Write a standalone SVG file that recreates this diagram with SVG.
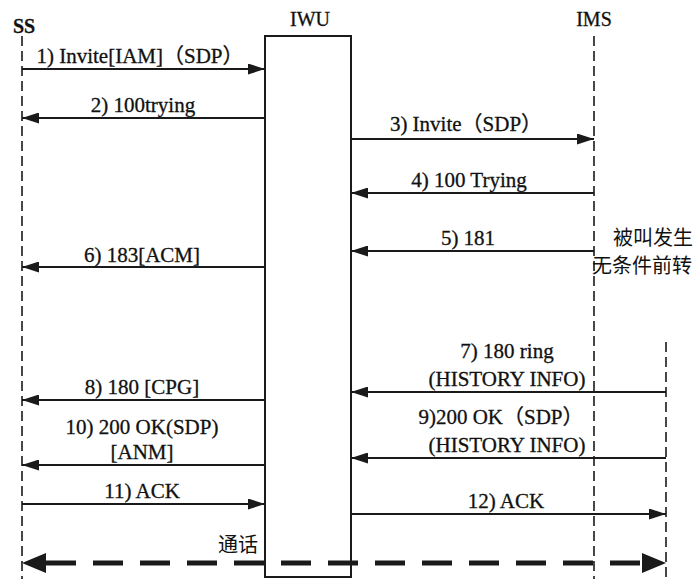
<svg xmlns="http://www.w3.org/2000/svg" width="699" height="579" viewBox="0 0 699 579">
<style>
.t{font-family:"Liberation Serif","Noto Sans CJK SC",serif;font-size:21px;fill:#111;stroke:#111;stroke-width:0.3;text-anchor:middle}
.h{font-family:"Liberation Serif",serif;font-size:20px;fill:#111;stroke:#111;stroke-width:0.3;text-anchor:middle}
.c{font-family:"Noto Sans CJK SC",sans-serif;font-size:20px;fill:#111}
.life{stroke:#1a1a1a;stroke-width:1.6;stroke-dasharray:10 5;fill:none}
.msg{stroke:#1a1a1a;stroke-width:2;fill:none;marker-end:url(#ah)}
.big{stroke:#1a1a1a;stroke-width:5;fill:none;stroke-dasharray:30 17;marker-start:url(#bh);marker-end:url(#bh)}
</style>
<defs>
<marker id="ah" viewBox="0 0 17 11" refX="17" refY="5.5" markerWidth="17" markerHeight="11" markerUnits="userSpaceOnUse" orient="auto">
<path d="M0,0 L17,5.5 L0,11 z" fill="#1a1a1a"/>
</marker>
<marker id="bh" viewBox="0 0 24 20" refX="0" refY="10" markerWidth="24" markerHeight="20" markerUnits="userSpaceOnUse" orient="auto-start-reverse">
<path d="M0,0 L24,10 L0,20 z" fill="#1a1a1a"/>
</marker>
</defs>
<g id="SS">
<text class="h" x="24" y="33" font-weight="bold">SS</text>
<line class="life" x1="22" y1="36" x2="22" y2="579"/>
</g>
<g id="IWU">
<text class="h" x="310" y="26">IWU</text>
<rect x="265" y="36" width="86" height="541" fill="none" stroke="#1a1a1a" stroke-width="2"/>
</g>
<g id="IMS">
<text class="h" x="594" y="26">IMS</text>
<line class="life" x1="594" y1="36" x2="594" y2="579"/>
</g>
<g id="IMS2">
<line class="life" x1="666" y1="342" x2="666" y2="579"/>
</g>
<g id="notes">
<text class="c" x="613" y="245">被叫发生</text>
<text class="c" x="592" y="273">无条件前转</text>
<text class="c" x="258" y="552" text-anchor="end">通话</text>
</g>
<g id="connectors">
<line class="msg" x1="22" y1="69" x2="265" y2="69"/>
<text class="t" x="140" y="63">1) Invite[IAM]（SDP）</text>
<line class="msg" x1="265" y1="118" x2="22" y2="118"/>
<text class="t" x="143" y="112">2) 100trying</text>
<line class="msg" x1="351" y1="139" x2="594" y2="139"/>
<text class="t" x="466" y="131">3) Invite（SDP）</text>
<line class="msg" x1="594" y1="193" x2="351" y2="193"/>
<text class="t" x="469" y="187">4) 100 Trying</text>
<line class="msg" x1="594" y1="251" x2="351" y2="251"/>
<text class="t" x="468" y="245">5) 181</text>
<line class="msg" x1="265" y1="267" x2="22" y2="267"/>
<text class="t" x="142" y="262">6) 183[ACM]</text>
<line class="msg" x1="666" y1="392" x2="351" y2="392"/>
<text class="t" x="507" y="358">7) 180 ring</text>
<text class="t" x="507" y="386">(HISTORY INFO)</text>
<line class="msg" x1="265" y1="400" x2="22" y2="400"/>
<text class="t" x="142" y="394">8) 180 [CPG]</text>
<line class="msg" x1="666" y1="458" x2="351" y2="458"/>
<text class="t" x="501" y="424">9)200 OK（SDP）</text>
<text class="t" x="507" y="452">(HISTORY INFO)</text>
<line class="msg" x1="265" y1="465" x2="22" y2="465"/>
<text class="t" x="142" y="434">10) 200 OK(SDP)</text>
<text class="t" x="142" y="459">[ANM]</text>
<line class="msg" x1="22" y1="504" x2="265" y2="504"/>
<text class="t" x="142" y="498">11) ACK</text>
<line class="msg" x1="351" y1="514" x2="666" y2="514"/>
<text class="t" x="506" y="508">12) ACK</text>
<line class="big" x1="46" y1="563" x2="642" y2="563"/>
</g>
</svg>
